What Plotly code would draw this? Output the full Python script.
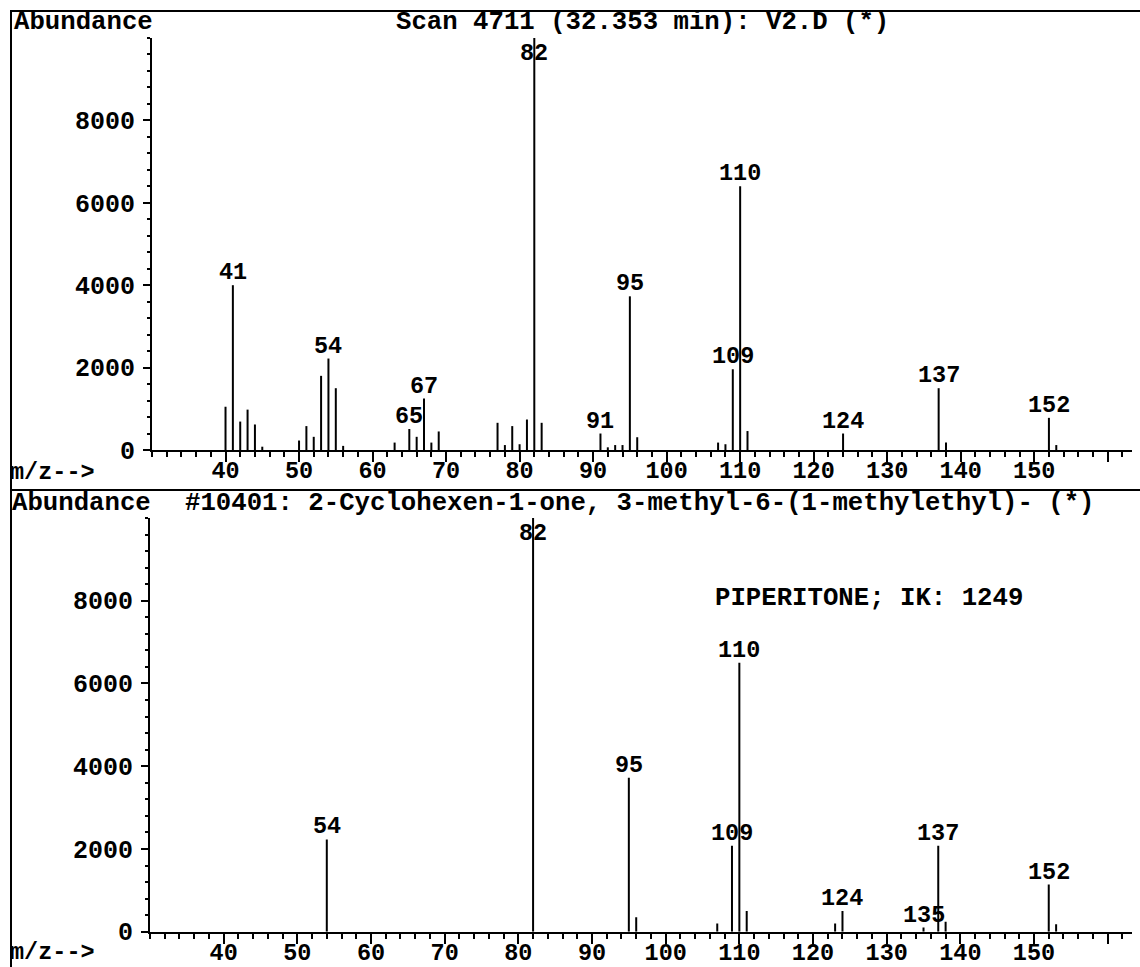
import plotly.graph_objects as go

# Sample scan 4711 spectrum (m/z, abundance)
scan_mz = [40, 41, 42, 43, 44, 45, 50, 51, 52, 53, 54, 55, 56, 63, 65, 66, 67, 68, 69,
           77, 78, 79, 80, 81, 82, 83, 91, 92, 93, 94, 95, 96, 107, 108, 109, 110, 111,
           124, 137, 138, 152, 153]
scan_abund = [1050, 4000, 690, 980, 620, 80, 230, 580, 320, 1800, 2220, 1500, 100, 180,
              510, 320, 1250, 180, 450, 660, 120, 580, 140, 740, 10000, 660, 400, 65, 120,
              120, 3730, 310, 180, 140, 1960, 6400, 460, 400, 1500, 180, 780, 120]
scan_labels = [41, 54, 65, 67, 82, 91, 95, 109, 110, 124, 137, 152]

# Library reference spectrum #10401 (piperitone)
lib_mz = [54, 82, 95, 96, 107, 109, 110, 111, 123, 124, 135, 137, 138, 152, 153]
lib_abund = [2230, 10000, 3720, 350, 200, 2080, 6500, 500, 200, 500, 100, 2080, 240, 1140, 180]
lib_labels = [54, 82, 95, 109, 110, 124, 135, 137, 152]

x_ticks = [40, 50, 60, 70, 80, 90, 100, 110, 120, 130, 140, 150, 160]
x_ticktext = ["40", "50", "60", "70", "80", "90", "100", "110", "120", "130", "140", "150", ""]
y_ticks = [0, 2000, 4000, 6000, 8000]
y_ticktext = ["0", "2000", "4000", "6000", "8000"]

scan_title = "Scan 4711 (32.353 min): V2.D (*)"
lib_title = "#10401: 2-Cyclohexen-1-one, 3-methyl-6-(1-methylethyl)- (*)"
lib_note = "PIPERITONE; IK: 1249"

W, H = 1140, 967
FONT = "Liberation Mono"


def px(x):
    return x / W


def py(y):
    return 1 - y / H


def sticks(mz, ab):
    xs, ys = [], []
    for m, a in zip(mz, ab):
        xs += [m, m, None]
        ys += [0, a, None]
    return xs, ys


fig = go.Figure()

for mz, ab, xa, ya in [(scan_mz, scan_abund, "x", "y"), (lib_mz, lib_abund, "x2", "y2")]:
    xs, ys = sticks(mz, ab)
    fig.add_trace(go.Scatter(x=xs, y=ys, mode="lines", xaxis=xa, yaxis=ya,
                             line=dict(color="black", width=2), hoverinfo="skip",
                             showlegend=False))

xtickfont = dict(family=FONT, size=23.5, color="black", weight="bold")
ytickfont = dict(family=FONT, size=25, color="black", weight="bold")

xcommon = dict(range=[30, 163.3], showline=True, linecolor="black", linewidth=2,
               ticks="outside", ticklen=10, tickwidth=2, tickcolor="black",
               tickmode="array", tickvals=x_ticks, ticktext=x_ticktext,
               showgrid=False, zeroline=False, tickfont=xtickfont, ticklabelstandoff=-12,
               minor=dict(tickmode="linear", tick0=0, dtick=2, ticks="outside",
                          ticklen=5, tickwidth=2, tickcolor="black", showgrid=False),
               fixedrange=True)
ycommon = dict(range=[0, 10000], showline=True, linecolor="black", linewidth=2,
               ticks="outside", ticklen=7, tickwidth=2, tickcolor="black",
               tickmode="array", tickvals=y_ticks, ticktext=y_ticktext,
               showgrid=False, zeroline=False, tickfont=ytickfont, ticklabelstandoff=3,
               minor=dict(tickmode="linear", tick0=0, dtick=400, ticks="outside",
                          ticklen=3, tickwidth=1.5, tickcolor="black", showgrid=False),
               fixedrange=True)

fig.update_layout(
    width=W, height=H, autosize=False,
    margin=dict(l=0, r=0, t=0, b=0, autoexpand=False),
    paper_bgcolor="white", plot_bgcolor="white",
    xaxis=dict(domain=[px(152), px(1132)], anchor="y", **xcommon),
    yaxis=dict(domain=[py(450), py(38)], anchor="x", **ycommon),
    xaxis2=dict(domain=[px(150), px(1132)], anchor="y2", **xcommon),
    yaxis2=dict(domain=[py(931.7), py(518)], anchor="x2", **ycommon),
)

annotations = []
labelfont = dict(family=FONT, size=23.5, color="black", weight="bold")
for mz, ab, labels, xr, yr in [(scan_mz, scan_abund, scan_labels, "x", "y"),
                               (lib_mz, lib_abund, lib_labels, "x2", "y2")]:
    lookup = dict(zip(mz, ab))
    for m in labels:
        v = lookup[m]
        if v >= 9900:
            annotations.append(dict(x=m, y=10000, xref=xr, yref=yr, text=str(m),
                                    showarrow=False, yanchor="top", yshift=0,
                                    font=labelfont))
        else:
            annotations.append(dict(x=m, y=v, xref=xr, yref=yr, text=str(m),
                                    showarrow=False, yanchor="bottom", yshift=-3,
                                    font=labelfont))

headfont = dict(family=FONT, size=25.7, color="black", weight="bold")
for text, x, y, anchor in [("Abundance", 12, 22, "left"),
                           (scan_title, 642, 22, "center"),
                           ("Abundance", 10, 503, "left"),
                           (lib_title, 640, 503, "center"),
                           (lib_note, 713, 598, "left")]:
    annotations.append(dict(x=px(x), y=py(y), xref="paper", yref="paper", text=text,
                            showarrow=False, xanchor=anchor, yanchor="middle",
                            font=headfont))
for y in (472, 952):
    annotations.append(dict(x=px(8), y=py(y), xref="paper", yref="paper", text="m/z-->",
                            showarrow=False, xanchor="left", yanchor="middle",
                            font=dict(family=FONT, size=23.5, color="black", weight="bold")))
fig.update_layout(annotations=annotations)

# Frame lines around the report panels
line = dict(color="black", width=2)
fig.add_shape(type="line", xref="paper", yref="paper", x0=px(10), x1=1, y0=py(11), y1=py(11), line=line)
fig.add_shape(type="line", xref="paper", yref="paper", x0=px(11), x1=px(11), y0=py(11), y1=0, line=line)
fig.add_shape(type="line", xref="paper", yref="paper", x0=px(10), x1=1, y0=py(490), y1=py(490), line=line)

fig.write_html("out.html")
